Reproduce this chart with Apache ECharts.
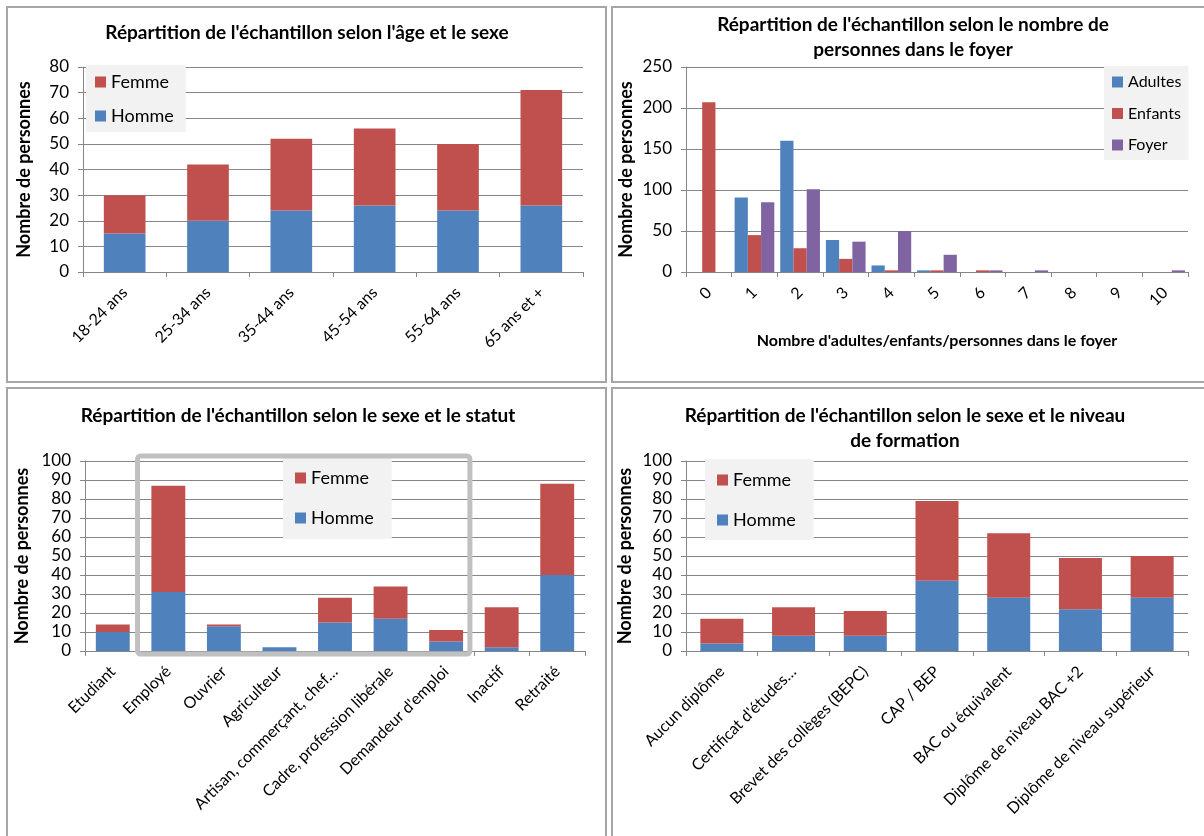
<!DOCTYPE html>
<html lang="fr">
<head>
<meta charset="utf-8">
<title>Répartition de l'échantillon</title>
<script src="https://cdn.jsdelivr.net/npm/echarts@6.0.0/dist/echarts.min.js"></script>
<style>
  html, body { margin: 0; padding: 0; background: #fff; }
  #chart { width: 1204px; height: 836px; }
</style>
</head>
<body>
<div id="chart"></div>
<script>
// Âge et sexe
const ageCategories = ['18-24 ans', '25-34 ans', '35-44 ans', '45-54 ans', '55-64 ans', '65 ans et +'];
const ageHomme = [15, 20, 24, 26, 24, 26];
const ageFemme = [15, 22, 28, 30, 26, 45];

// Nombre de personnes dans le foyer
const foyerCategories = ['0', '1', '2', '3', '4', '5', '6', '7', '8', '9', '10'];
const foyerAdultes = [0, 91, 160, 39, 8, 2, 0, 0, 0, 0, 0];
const foyerEnfants = [207, 45, 29, 16, 2, 2, 2, 0, 0, 0, 0];
const foyerPersonnes = [0, 85, 101, 37, 50, 21, 2, 2, 0, 0, 2];

// Sexe et statut
const statutCategories = ['Etudiant', 'Employé', 'Ouvrier', 'Agriculteur', 'Artisan, commerçant, chef…',
  'Cadre, profession libérale', "Demandeur d'emploi", 'Inactif', 'Retraité'];
const statutHomme = [10, 31, 13, 2, 15, 17, 5, 2, 40];
const statutFemme = [4, 56, 1, 0, 13, 17, 6, 21, 48];

// Sexe et niveau de formation
const formationCategories = ['Aucun diplôme', "Certificat d'études…", 'Brevet des collèges (BEPC)', 'CAP / BEP',
  'BAC ou équivalent', 'Diplôme de niveau BAC +2', 'Diplôme de niveau supérieur'];
const formationHomme = [4, 8, 8, 37, 28, 22, 28];
const formationFemme = [13, 15, 13, 42, 34, 27, 22];

const FONT = 'Lato, "Open Sans", sans-serif';
const BLUE = '#4f81bd', RED = '#c0504d', PURPLE = '#8064a2';
const AXIS = '#868686';

const grids = [
  { left: 83, top: 67, width: 500, height: 205 },
  { left: 686, top: 67, width: 502, height: 205 },
  { left: 85, top: 461, width: 500, height: 190 },
  { left: 686, top: 461, width: 502, height: 190 }
];

function xAxis(gridIndex, data, extra) {
  return Object.assign({
    type: 'category', gridIndex, data,
    axisLine: { lineStyle: { color: AXIS, width: 1 } },
    axisTick: { show: true, length: 5, lineStyle: { color: AXIS } },
    axisLabel: { rotate: 45, interval: 0, margin: 18, color: '#000', fontSize: 16, fontFamily: FONT }
  }, extra || {});
}
function yAxis(gridIndex, max, interval, nameGap) {
  return {
    type: 'value', gridIndex, min: 0, max, interval,
    name: 'Nombre de personnes', nameLocation: 'middle', nameGap, nameRotate: 90,
    nameTextStyle: { color: '#000', fontSize: 18, fontWeight: 'bold', fontFamily: FONT },
    axisLine: { show: true, lineStyle: { color: AXIS } },
    axisTick: { show: true, length: 5, lineStyle: { color: AXIS } },
    axisLabel: { color: '#000', fontSize: 17, fontFamily: FONT, margin: 14 },
    splitLine: { lineStyle: { color: AXIS, width: 1 } }
  };
}
function title(text, x, top) {
  return {
    text, left: x, top, textAlign: 'center', padding: 0,
    textStyle: { color: '#000', fontSize: 19, fontWeight: 'bold', fontFamily: FONT, lineHeight: 25 }
  };
}
function legend(data, left, top, pad, gap, fs) {
  return {
    data, left, top, orient: 'vertical', icon: 'rect', itemWidth: 11, itemHeight: 11,
    itemGap: gap, padding: pad, backgroundColor: '#f2f2f2', borderRadius: 0,
    selectedMode: false,
    textStyle: { color: '#000', fontSize: fs, lineHeight: fs, fontFamily: FONT }
  };
}

// Panel frames
const frames = [
  [7, 7, 599, 375], [612, 7, 600, 375], [7, 388, 599, 460], [612, 388, 600, 460]
].map(([x, y, w, h]) => ({
  type: 'rect', shape: { x, y, width: w, height: h },
  style: { fill: null, stroke: '#a6a6a6', lineWidth: 2 }, silent: true
}));

const option = {
  animation: false,
  backgroundColor: '#fff',
  textStyle: { fontFamily: FONT },
  title: [
    title("Répartition de l'échantillon selon l'âge et le sexe", 307, 20),
    title("Répartition de l'échantillon selon le nombre de\npersonnes dans le foyer", 913, 12),
    title("Répartition de l'échantillon selon le sexe et le statut", 298, 403),
    title("Répartition de l'échantillon selon le sexe et le niveau\nde formation", 905, 403)
  ],
  legend: [
    legend(['Femme', 'Homme'], 86, 65, [8, 12, 7, 9], 16, 18),
    legend(['Adultes', 'Enfants', 'Foyer'], 1104, 66, [8, 7, 7, 8], 15.5, 16),
    legend(['Femme', 'Homme'], 283, 458, [11, 18, 12, 12], 22, 18),
    legend(['Femme', 'Homme'], 705, 459, [12, 18, 11, 12], 22, 18)
  ],
  grid: grids,
  xAxis: [
    xAxis(0, ageCategories),
    xAxis(1, foyerCategories, {
      name: "Nombre d'adultes/enfants/personnes dans le foyer", nameLocation: 'middle', nameGap: 61,
      nameTextStyle: { color: '#000', fontSize: 16, fontWeight: 'bold', fontFamily: FONT }
    }),
    xAxis(2, statutCategories),
    xAxis(3, formationCategories)
  ],
  yAxis: [
    yAxis(0, 80, 10, 50),
    yAxis(1, 250, 50, 51),
    yAxis(2, 100, 10, 54),
    yAxis(3, 100, 10, 52)
  ],
  series: [
    { name: 'Homme', type: 'bar', xAxisIndex: 0, yAxisIndex: 0, stack: 'age', barWidth: '50%', data: ageHomme, itemStyle: { color: BLUE } },
    { name: 'Femme', type: 'bar', xAxisIndex: 0, yAxisIndex: 0, stack: 'age', barWidth: '50%', data: ageFemme, itemStyle: { color: RED } },

    { name: 'Adultes', type: 'bar', xAxisIndex: 1, yAxisIndex: 1, barGap: '0%', barCategoryGap: '13%', data: foyerAdultes, itemStyle: { color: BLUE } },
    { name: 'Enfants', type: 'bar', xAxisIndex: 1, yAxisIndex: 1, barGap: '0%', barCategoryGap: '13%', data: foyerEnfants, itemStyle: { color: RED } },
    { name: 'Foyer', type: 'bar', xAxisIndex: 1, yAxisIndex: 1, barGap: '0%', barCategoryGap: '13%', data: foyerPersonnes, itemStyle: { color: PURPLE } },

    { name: 'Homme', type: 'bar', xAxisIndex: 2, yAxisIndex: 2, stack: 'statut', barWidth: '61%', data: statutHomme, itemStyle: { color: BLUE } },
    { name: 'Femme', type: 'bar', xAxisIndex: 2, yAxisIndex: 2, stack: 'statut', barWidth: '61%', data: statutFemme, itemStyle: { color: RED } },

    { name: 'Homme', type: 'bar', xAxisIndex: 3, yAxisIndex: 3, stack: 'formation', barWidth: '60%', data: formationHomme, itemStyle: { color: BLUE } },
    { name: 'Femme', type: 'bar', xAxisIndex: 3, yAxisIndex: 3, stack: 'formation', barWidth: '60%', data: formationFemme, itemStyle: { color: RED } }
  ],
  graphic: frames
};

const chart = echarts.init(document.getElementById('chart'), null, { renderer: 'canvas' });
chart.setOption(option);

// Grey frame around the working statuses (Employé … Demandeur d'emploi)
const finder = { xAxisIndex: 2, yAxisIndex: 2 };
const step = grids[2].width / statutCategories.length;
const xFirst = chart.convertToPixel(finder, [statutCategories[1], 0])[0] - step / 2;
const xLast = chart.convertToPixel(finder, [statutCategories[6], 0])[0] + step / 2;
const yTop = chart.convertToPixel(finder, [statutCategories[1], 100])[1];
const yBase = chart.convertToPixel(finder, [statutCategories[1], 0])[1];
chart.setOption({
  graphic: frames.concat([{
    type: 'rect', silent: true, z: 10,
    shape: { x: xFirst - 3, y: yTop - 5, width: (xLast - 4) - (xFirst - 3), height: (yBase + 3) - (yTop - 5), r: 3 },
    style: { fill: null, stroke: '#c0c0c0', lineWidth: 5 }
  }])
});
</script>
</body>
</html>
